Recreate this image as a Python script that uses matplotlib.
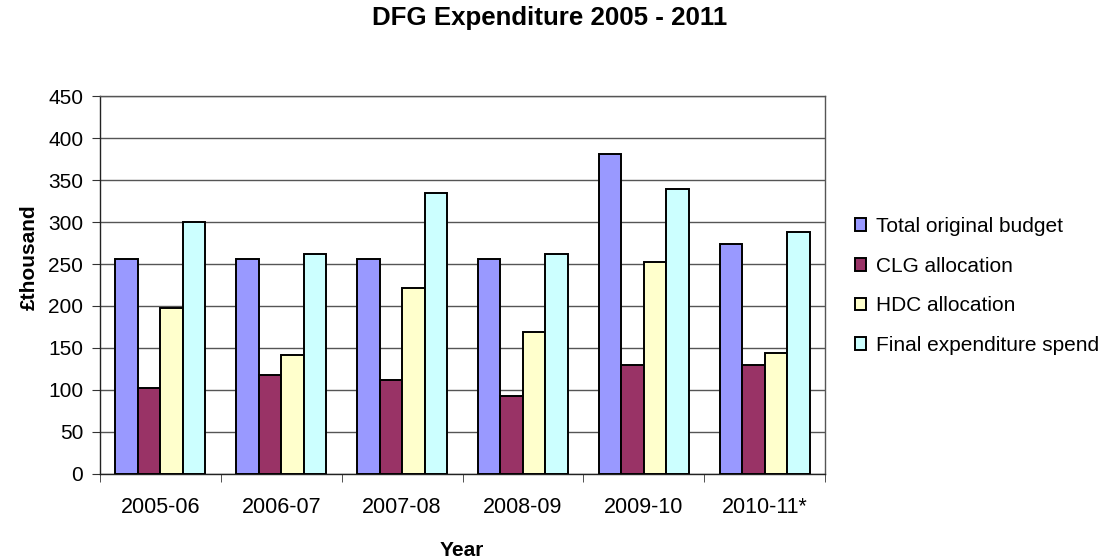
import matplotlib
matplotlib.use("Agg")
import matplotlib.pyplot as plt
import numpy as np

plt.rcParams['font.family'] = ['Liberation Sans', 'DejaVu Sans']

categories = ["2005-06", "2006-07", "2007-08", "2008-09", "2009-10", "2010-11*"]
series_names = ["Total original budget", "CLG allocation", "HDC allocation", "Final expenditure spend"]
total_budget = [256, 256, 256, 256, 381, 274]
clg_alloc = [102, 117, 112, 93, 130, 130]
hdc_alloc = [198, 142, 222, 169, 252, 144]
final_spend = [300, 262, 335, 262, 340, 288]
colors = ["#9999FF", "#993366", "#FFFFCC", "#CCFFFF"]
yticks = [0, 50, 100, 150, 200, 250, 300, 350, 400, 450]

fig = plt.figure(figsize=(11.16, 5.6), dpi=100)
ax_w = 725 / 1116
ax = fig.add_axes([100/1116, 1 - 473.5/560, ax_w, (473.5 - 96.5)/560])

x = np.arange(len(categories))
w = 0.186
data = [total_budget, clg_alloc, hdc_alloc, final_spend]
for i, (vals, name, c) in enumerate(zip(data, series_names, colors)):
    ax.bar(x + (i - 1.5) * w, vals, w, color=c, edgecolor='black', linewidth=1.4,
           label=name, zorder=3)

ax.set_xlim(-0.5, len(categories) - 0.5)
ax.set_ylim(0, 450)
ax.set_yticks(yticks)
ax.set_yticklabels([str(v) for v in yticks], fontsize=15)
ax.yaxis.grid(True, color='#555555', linewidth=1.0, zorder=0)
ax.set_axisbelow(True)

ax.set_xticks(x)
ax.set_xticklabels(categories, fontsize=15.5)
ax.tick_params(axis='x', length=0, pad=17)
ax.set_xticks(np.arange(len(categories) + 1) - 0.5, minor=True)
ax.tick_params(axis='x', which='minor', length=6, direction='out', color='#333333')
ax.tick_params(axis='y', length=6, direction='out', color='#333333', pad=6)

for s in ax.spines.values():
    s.set_color('#555555')
    s.set_linewidth(1.0)
ax.spines['left'].set_color('#222222')
ax.spines['bottom'].set_color('#222222')

ax.set_ylabel("£thousand", fontsize=15, fontweight='bold')
ax.yaxis.set_label_coords((39 - 100) / 725, (473.5 - 257) / 377)
fig.text(462/1116, 1 - 550/560, "Year", fontsize=15, fontweight='bold', ha='center', va='center')
fig.text(550/1116, 1 - 18.5/560, "DFG Expenditure 2005 - 2011", fontsize=18.6, fontweight='bold',
         ha='center', va='center')

leg = fig.legend(loc='center left', bbox_to_anchor=(836/1116, 1 - 286/560), frameon=False,
                 fontsize=15, handlelength=0.55, handleheight=0.55, handletextpad=0.45,
                 labelspacing=0.99)

fig.savefig("out.png", dpi=100)
